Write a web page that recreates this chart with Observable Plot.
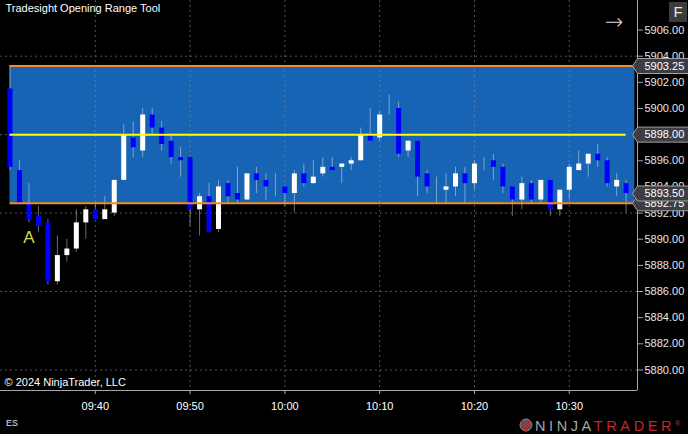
<!DOCTYPE html>
<html><head><meta charset="utf-8">
<script src="https://cdn.jsdelivr.net/npm/d3@7"></script>
<script src="https://cdn.jsdelivr.net/npm/@observablehq/plot@0.6"></script>
<style>
html,body{margin:0;padding:0;background:#000;}
#wrap{position:relative;width:688px;height:434px;overflow:hidden;font-family:"Liberation Sans",Arial,sans-serif;background:#000;}
#wrap svg{display:block;}
.ov{position:absolute;}
</style></head><body><div id="wrap"></div>
<script>
const title = "Tradesight Opening Range Tool";
const copyright = "© 2024 NinjaTrader, LLC";
const instrument = "ES";
const times = ["09:31","09:32","09:33","09:34","09:35","09:36","09:37","09:38","09:39","09:40",
"09:41","09:42","09:43","09:44","09:45","09:46","09:47","09:48","09:49","09:50",
"09:51","09:52","09:53","09:54","09:55","09:56","09:57","09:58","09:59","10:00",
"10:01","10:02","10:03","10:04","10:05","10:06","10:07","10:08","10:09","10:10",
"10:11","10:12","10:13","10:14","10:15","10:16","10:17","10:18","10:19","10:20",
"10:21","10:22","10:23","10:24","10:25","10:26","10:27","10:28","10:29","10:30",
"10:31","10:32","10:33","10:34","10:35","10:36"];
const open = [5901.5,5895.25,5892.75,5891.75,5891.25,5886.75,5888.75,5889.25,5891.25,5892.25,
5891.5,5892,5894.5,5897.75,5896.75,5899.5,5898.5,5897.5,5896.25,5896.25,
5892.25,5893.25,5890.75,5894.25,5893.5,5893,5895,5894.5,5894,5894,
5893.5,5895,5894.25,5895,5895.5,5895.5,5895.75,5896,5898,5897.75,
5899.75,5900,5896.75,5897.5,5895,5894,5893.75,5894,5895,5894.25,
5895.75,5896,5895.5,5894,5893,5894.25,5893,5894.5,5892.25,5893.75,
5895.25,5895.75,5896.5,5896,5894,5894.25];
const high = [5903.25,5896,5894.25,5892.5,5891.5,5890.25,5890,5892.25,5892.5,5892.75,
5893.25,5894.5,5898.75,5899,5900,5900,5899,5898,5897,5896.25,
5893.5,5894.25,5894.5,5894.5,5895.5,5895,5895.5,5895,5895,5894,
5895.25,5895.75,5896,5896.25,5896.25,5895.75,5896.25,5898.5,5900,5899.75,
5901,5900.5,5897.5,5897.5,5895.25,5894.75,5895,5895.5,5895.5,5896,
5896.25,5896.5,5895.75,5894,5894.75,5894.5,5894.5,5894.5,5893.75,5895.75,
5896.75,5896.5,5897.25,5896.25,5895,5894.5];
const low = [5895.25,5892.75,5891.25,5890.5,5886.5,5886.5,5888.25,5889,5890,5891.5,
5891.5,5891.75,5894.5,5896.25,5896.25,5898,5896.75,5895.75,5894.75,5891,
5890.25,5890.5,5890.5,5892.75,5892.75,5893,5893.5,5893,5893.25,5892.5,
5892,5894,5894.25,5894.75,5895.25,5894.25,5895.25,5896,5897.5,5897.5,
5899.5,5896.25,5896.25,5893.25,5893.5,5892.75,5892.75,5893.25,5892.75,5893.75,
5895.25,5894.5,5893.5,5891.75,5892.25,5892.75,5892.75,5891.75,5891.75,5893,
5895.25,5894.75,5895.5,5894,5893.25,5892];
const close = [5895.5,5892.75,5891.5,5891,5886.75,5888.75,5889.25,5891.25,5892.25,5891.5,
5892.25,5894.5,5898,5897,5899.5,5898.5,5897.25,5896.25,5896,5892.25,
5893.25,5890.5,5894,5893.25,5893,5895,5894.5,5894,5894,5893.5,
5895,5894.25,5894.75,5895.5,5895.25,5895.75,5896,5898,5897.5,5899.5,
5899.75,5896.5,5897.5,5894.75,5894,5894,5894,5895,5894.25,5895.75,
5895.75,5895.5,5894,5893,5894.25,5893,5894.5,5892.25,5893.75,5895.5,
5895.75,5896.5,5896,5894.25,5894.5,5893.5];

const rangeHigh = 5903.25, rangeLow = 5892.75, rangeMid = 5898.00, lastPrice = 5893.50;
const rangeStart = "09:31", rangeEnd = "10:36:55", midEnd = "10:36";
const yTicks = [5880,5882,5884,5886,5888,5890,5892,5894,5896,5898,5900,5902,5904,5906];
const gridPrices = [5880,5886,5892,5898,5904];
const xTicks = ["09:40","09:50","10:00","10:10","10:20","10:30"];
const xStart = "09:30", xEnd = "10:37:12";
const yMin = 5878.43, yMax = 5908.26;
const annotations = [{time:"09:33", price:5890.1, label:"A"}];

const parse = s => { const p = s.split(":").map(Number); return new Date(Date.UTC(2024,0,2,p[0],p[1],p[2]||0)); };
const bars = times.map((t,i)=>({t:parse(t), o:open[i], h:high[i], l:low[i], c:close[i]}));
const up = bars.filter(d=>d.c>d.o), down = bars.filter(d=>d.c<d.o);
const X0 = parse(xStart), X1 = parse(xEnd);

const flag = {draw(ctx){ ctx.moveTo(-5,0); ctx.lineTo(0,-7.5); ctx.lineTo(53,-7.5); ctx.lineTo(53,7.5); ctx.lineTo(0,7.5); ctx.closePath(); }};
const markers = [rangeHigh, rangeMid, rangeLow, lastPrice];
const markerMarks = markers.flatMap(p => [
  Plot.dot([p], {x: ()=>X1, y: d=>d, symbol: flag, r: 3, fill:"#3d3e44", stroke:"#a0a0a0", strokeWidth:1}),
  Plot.text([p], {x: ()=>X1, y: d=>d, text: d=>d.toFixed(2), dx: 7, textAnchor:"start", fill:"#ffffff", fontSize:11})
]);

const chart = Plot.plot({
  width:688, height:434,
  marginLeft:0, marginRight:51, marginTop:0, marginBottom:44,
  x:{type:"utc", domain:[X0,X1]},
  y:{domain:[yMin,yMax]},
  style:{background:"#000", fontFamily:"Liberation Sans, Arial, sans-serif", fontSize:"11px", color:"#e6e6e6", overflow:"visible"},
  marks:[
    Plot.gridY(gridPrices, {stroke:"#8a8a8a", strokeOpacity:0.6, strokeDasharray:"2,3"}),
    Plot.rect([0], {x1: ()=>parse(rangeStart), x2: ()=>parse(rangeEnd), y1: ()=>rangeLow, y2: ()=>rangeHigh, fill:"#1864b4"}),
    Plot.gridX(xTicks.map(parse), {stroke:"#8a8a8a", strokeOpacity:0.6, strokeDasharray:"2,3"}),
    Plot.ruleX(bars, {x:"t", y1:"l", y2:"h", stroke:"#ffffff", strokeOpacity:0.42, strokeWidth:1}),
    Plot.ruleX(up, {x:"t", y1:"o", y2:"c", stroke:"#ffffff", strokeWidth:5}),
    Plot.ruleX(down, {x:"t", y1:"o", y2:"c", stroke:"#0000ff", strokeWidth:5}),
    Plot.ruleY([rangeHigh, rangeLow], {y: d=>d, x1: ()=>parse(rangeStart), x2: ()=>parse(rangeEnd), stroke:"#f28c28", strokeWidth:2}),
    Plot.ruleY([rangeMid], {y: d=>d, x1: ()=>parse(rangeStart), x2: ()=>parse(midEnd), stroke:"#ffff00", strokeWidth:2}),
    Plot.ruleX([X1], {stroke:"#a8a8a8"}),
    Plot.ruleY([yMin], {stroke:"#a8a8a8"}),
    Plot.axisY(yTicks, {anchor:"right", tickFormat: d=>d.toFixed(2), tickSize:5, tickPadding:2, stroke:"#a8a8a8", fill:"#e6e6e6", fontSize:11, label:null}),
    Plot.axisX(xTicks.map(parse), {anchor:"bottom", tickFormat: d3.utcFormat("%H:%M"), tickSize:4, tickPadding:8, stroke:"#a8a8a8", fill:"#ffffff", fontSize:11, label:null}),
    ...markerMarks,
    Plot.text(annotations, {x: d=>parse(d.time), y:"price", text:"label", fill:"#c9dc45", fontSize:17}),
    Plot.text([title], {frameAnchor:"top-left", dx:5, dy:4, fill:"#ffffff", fontSize:11}),
    Plot.text([copyright], {frameAnchor:"bottom-left", dx:4, dy:-5, fill:"#ffffff", fontSize:11})
  ]
});
const wrap = document.getElementById("wrap");
wrap.appendChild(chart);

function ov(html, css){ const d=document.createElement("div"); d.className="ov"; d.style.cssText=css; d.innerHTML=html; wrap.appendChild(d); return d; }
ov("&#x2192;", "left:605px;top:8px;font-size:22px;color:#d8d8d8;line-height:28px;font-family:'DejaVu Sans',sans-serif;font-weight:200;");
ov("F", "left:669px;top:2px;width:18px;height:20px;background:#3c3c3c;color:#e8e8e8;font-size:15px;line-height:20px;text-align:center;");
ov(instrument, "left:6px;top:418px;font-size:9px;color:#e0e0e0;line-height:10px;");
ov('<svg width="14" height="14"><circle cx="7" cy="7" r="6" fill="#555" stroke="#888"/><path d="M3 3 L7 12 L11 3" fill="none" stroke="#c4262e" stroke-width="2.2"/></svg>',
   "left:519px;top:418px;width:14px;height:14px;line-height:0;");
ov('<span style="color:#a6a6a6">NINJA</span><span style="color:#c4262e">TRADER</span><span style="color:#c4262e;font-size:7px;letter-spacing:0;vertical-align:5px">&reg;</span>',
   "left:535px;top:416px;height:16px;font-size:14.5px;line-height:16px;letter-spacing:3.6px;font-family:'Liberation Sans',Arial,sans-serif;font-weight:400;white-space:nowrap;");
</script></body></html>
